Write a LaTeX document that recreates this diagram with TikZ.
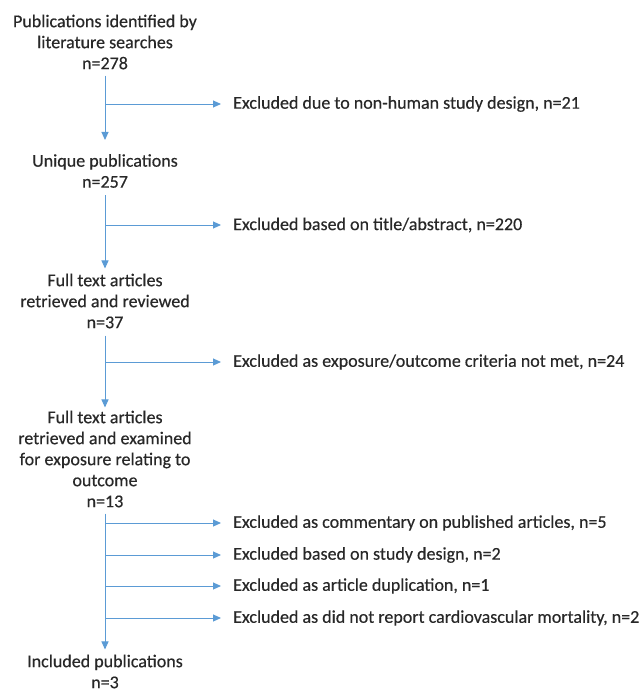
\documentclass[tikz,border=0pt]{standalone}
\usepackage{fontspec}
\setmainfont{Carlito}[FakeBold=0.4]
\usetikzlibrary{arrows.meta}
\definecolor{arrblue}{RGB}{91,155,213}
\definecolor{txt}{RGB}{40,40,40}
\begin{document}
\begin{tikzpicture}[x=1pt,y=1pt,
  mainbox/.style={align=center,font=\fontsize{18}{21}\selectfont,text=txt,inner sep=0pt},
  exclbox/.style={anchor=west,font=\fontsize{18}{21}\selectfont,text=txt,inner xsep=12pt,inner ysep=0pt},
  arr/.style={draw=arrblue,line width=1pt,-{Triangle[length=8pt,width=7pt]}}]
\useasboundingbox (0,0) rectangle (644,-693);
\node[mainbox] (n1) at (105,-42) {Publications identified by\\literature searches\\n=278};
\node[mainbox] (n2) at (105,-171) {Unique publications\\n=257};
\node[mainbox] (n3) at (105,-301) {Full text articles\\retrieved and reviewed\\n=37};
\node[mainbox] (n4) at (105,-459) {Full text articles\\retrieved and examined\\for exposure relating to\\outcome\\n=13};
\node[mainbox] (n5) at (105,-671.5) {Included publications\\n=3};
\node[exclbox] (e1) at (221,-104) {Excluded due to non-human study design, n=21};
\node[exclbox] (e2) at (221,-225) {Excluded based on title/abstract, n=220};
\node[exclbox] (e3) at (221,-362) {Excluded as exposure/outcome criteria not met, n=24};
\node[exclbox] (e4) at (221,-523) {Excluded as commentary on published articles, n=5};
\node[exclbox] (e5) at (221,-555) {Excluded based on study design, n=2};
\node[exclbox] (e6) at (221,-586) {Excluded as article duplication, n=1};
\node[exclbox] (e7) at (221,-618) {Excluded as did not report cardiovascular mortality, n=2};
\draw[arr,shorten <=6pt,shorten >=14pt] (n1.south) -- (n2.north);
\draw[arr,shorten <=7pt,shorten >=5pt] (n2.south) -- (n3.north);
\draw[arr,shorten <=7pt,shorten >=3pt] (n3.south) -- (n4.north);
\draw[arr,shorten <=6pt,shorten >=5pt] (n4.south) -- (n5.north);
\foreach \e in {e1,e2,e3,e4,e5,e6,e7}{
  \draw[arr] (n1.south |- \e.west) -- (\e.west);
}
\end{tikzpicture}
\end{document}
